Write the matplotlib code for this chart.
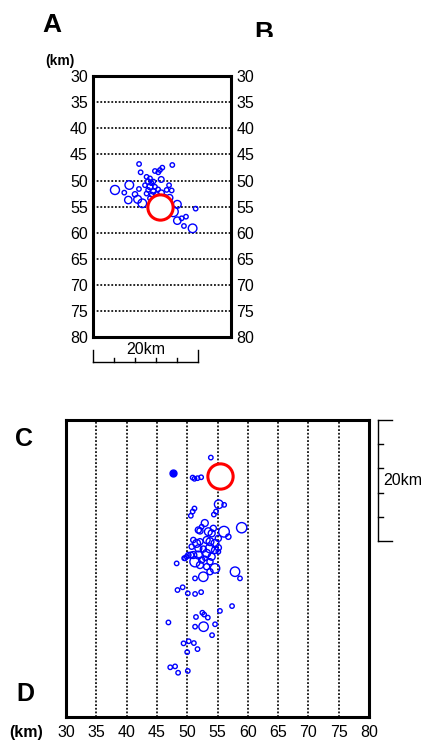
import numpy as np
import matplotlib
matplotlib.use("Agg")
import matplotlib.pyplot as plt
from matplotlib.transforms import Bbox, TransformedBbox

plt.rcParams['font.family'] = ['Liberation Sans', 'DejaVu Sans']

# ---- cross section A-B: distance along profile [km], depth [km], magnitude
secDist = [8.76, 9.06, 13.21, 12.76, 12.44, 15.12, 11.8, 6.89, 4.15, 5.93,
           7.98, 6.70, 8.49, 9.38, 8.74, 10.2, 10.85, 10.5, 11.1, 11.5,
           9.9, 10.85, 11.8, 10.5, 11.5, 12.4, 10.2, 11.2, 12.1, 13.0,
           10.85, 11.8, 12.76, 13.7, 14.04, 14.5, 15.0, 13.0, 14.6, 13.7,
           16.08, 15.31, 16.08, 16.91, 17.74, 19.01, 19.59, 17.35]
secDepth = [46.84, 48.43, 47.54, 47.99, 48.43, 47.03, 48.18, 50.86, 51.81, 52.32,
            52.64, 53.73, 53.6, 54.36, 51.62, 49.3, 49.6, 50.2, 50.5, 50.2,
            50.9, 51.2, 51.2, 51.8, 52.1, 51.7, 52.5, 52.7, 52.7, 52.4,
            53.4, 53.7, 53.4, 53.1, 51.8, 50.9, 51.9, 49.8, 53.3, 54.3,
            54.56, 55.96, 57.68, 57.23, 56.92, 59.15, 55.38, 58.7]
secMag = [1.0, 1.0, 1.0, 1.0, 1.0, 1.0, 1.0, 2.0, 2.1, 1.0,
          1.2, 1.7, 1.8, 2.0, 1.0, 1.0, 1.0, 1.2, 1.0, 1.0,
          1.0, 1.3, 1.0, 1.0, 1.2, 1.0, 1.0, 1.0, 1.3, 1.4,
          1.0, 1.2, 1.0, 1.0, 1.0, 1.0, 1.0, 1.3, 1.5, 1.4,
          1.8, 2.3, 1.7, 1.0, 1.0, 2.0, 1.0, 1.0]
mainSec = (12.76, 55.13)

# ---- map view C-D: x [km], distance from C [km], magnitude
mapX = [53.9, 50.9, 51.2, 51.7, 52.3, 55.2, 56.1, 54.75, 54.4, 51.2, 50.9, 50.6,
        51.84, 52.39, 53.49, 54.31, 54.04, 56.07, 58.99, 51.01, 51.56, 52.11,
        53.21, 53.76, 54.59, 55.14, 56.79, 50.74, 51.84, 52.66, 53.76, 54.59,
        55.14, 50.19, 51.01, 51.84, 53.21, 54.04, 55.14, 49.64, 51.29, 52.39,
        52.94, 53.76, 48.26, 52.11, 53.21, 54.59, 57.89, 52.66, 51.29, 53.76,
        58.71, 52.1, 50.6, 49.9, 49.5, 52.9,
        48.4, 49.25, 50.1, 51.3, 52.3, 57.4, 55.4, 52.5, 52.8, 53.4, 51.45,
        46.9, 52.7, 51.3, 54.6, 54.1, 50.25, 49.4, 51.1, 51.7, 50.0, 47.2,
        48.0, 48.5, 50.1]
mapY = [6.2, 9.5, 9.7, 9.6, 9.45, 13.9, 14.0, 15.1, 15.6, 14.6, 15.1, 15.8,
        18.15, 17.6, 18.43, 17.88, 18.7, 18.43, 17.77, 19.8, 20.36, 20.08,
        19.8, 20.08, 20.36, 19.53, 19.26, 20.9, 21.18, 21.29, 21.18, 21.46,
        21.07, 22.28, 22.28, 22.28, 22.0, 22.56, 21.73, 22.83, 23.38, 23.1,
        22.83, 23.38, 23.66, 23.93, 24.2, 24.48, 25.03, 25.86, 26.13, 25.03,
        26.13, 18.3, 22.3, 22.55, 22.8, 17.0,
        28.05, 27.6, 28.6, 28.7, 28.4, 30.7, 31.5, 31.8, 32.1, 32.6, 32.5,
        33.4, 34.1, 34.1, 33.7, 35.5, 36.5, 36.85, 36.8, 37.8, 38.3, 40.8,
        40.65, 41.7, 41.4]
mapMag = [1.0, 1.0, 1.0, 1.0, 1.0, 2.0, 1.0, 1.0, 1.0, 1.0, 1.0, 1.0,
          1.4, 1.0, 1.8, 1.4, 1.6, 2.5, 2.4, 1.2, 1.8, 1.4,
          1.6, 1.8, 1.8, 1.4, 1.2, 1.2, 1.6, 1.4, 2.1, 1.6,
          1.4, 1.2, 1.6, 1.8, 1.8, 1.6, 1.0, 1.0, 2.4, 1.4,
          1.0, 1.4, 1.0, 1.6, 1.4, 2.2, 2.2, 2.2, 1.0, 1.4,
          1.0, 1.4, 1.4, 1.0, 1.0, 1.6,
          1.0, 1.0, 1.0, 1.0, 1.0, 1.0, 1.0, 1.0, 1.0, 1.0, 1.0,
          1.0, 2.2, 1.0, 1.0, 1.0, 1.0, 1.0, 1.0, 1.0, 1.0, 1.0,
          1.0, 1.0, 1.0]
filledMap = (47.7, 8.8)
mainMap = (55.4, 9.2)
mainMag = 6.0

depthTicks = np.arange(30, 85, 5)
xTicks = np.arange(30, 85, 5)

dotStyle = (0, (1.1, 1.1))


def magToSize(m):
    # marker diameter in points grows with magnitude
    d = 3.2 + 3.0 * (np.asarray(m) - 1.0)
    return d ** 2


fig = plt.figure(figsize=(4.33, 7.44), dpi=100)

# ---------------- panel A-B (cross section)
ax1 = fig.add_axes([93.3/433, 1-337.3/744, 137.4/433, 261.3/744])
ax1.set_xlim(0, 26.3)
ax1.set_ylim(80, 30)
for d in depthTicks[1:-1]:
    ax1.axhline(d, color='k', linestyle=dotStyle, linewidth=1.2, zorder=1)
ax1.scatter(secDist, secDepth, s=magToSize(secMag), facecolors='none',
            edgecolors='#0000ff', linewidths=1.0, zorder=3)
ax1.scatter([mainSec[0]], [mainSec[1]], s=magToSize(mainMag), facecolors='white',
            edgecolors='#ff0000', linewidths=2.2, zorder=4)
ax1.set_yticks(depthTicks)
ax1.set_xticks([])
ax1.tick_params(axis='y', length=0, pad=4, labelsize=11.5, left=True, right=True,
                labelleft=True, labelright=True)
for sp in ax1.spines.values():
    sp.set_linewidth(2.2)

# scale bar under section
barY = 84.66
ax1.plot([0, 20], [barY, barY], color='k', linewidth=1.0, clip_on=False)
for xt in [0, 20]:
    ax1.plot([xt, xt], [barY, 82.4], color='k', linewidth=1.0, clip_on=False)
for xt in [4, 8, 12, 16]:
    ax1.plot([xt, xt], [barY, 83.9], color='k', linewidth=1.0, clip_on=False)
ax1.text(10, 82.4, '20km', ha='center', va='center', fontsize=11.5, clip_on=False)

# ---------------- panel C-D (map view)
ax2 = fig.add_axes([66/433, 1-717/744, 303/433, 297/744])
ax2.set_xlim(30, 80)
ax2.set_ylim(49, 0)
for xv in xTicks[1:-1]:
    ax2.axvline(xv, color='k', linestyle=dotStyle, linewidth=1.2, zorder=1)
ax2.scatter(mapX, mapY, s=magToSize(mapMag), facecolors='none',
            edgecolors='#0000ff', linewidths=1.0, zorder=3)
ax2.scatter([filledMap[0]], [filledMap[1]], s=magToSize(1.6), color='#0000ff', zorder=3)
ax2.scatter([mainMap[0]], [mainMap[1]], s=magToSize(mainMag), facecolors='white',
            edgecolors='#ff0000', linewidths=2.2, zorder=4)
ax2.set_xticks(xTicks)
ax2.set_yticks([])
ax2.tick_params(axis='x', length=0, pad=6, labelsize=11.5)
for sp in ax2.spines.values():
    sp.set_linewidth(2.2)

# vertical scale bar right of map
barX = 81.54
ax2.plot([barX, barX], [0, 20], color='k', linewidth=1.0, clip_on=False)
for yt in [0, 20]:
    ax2.plot([barX, 83.75], [yt, yt], color='k', linewidth=1.0, clip_on=False)
for yt in [4, 8, 12, 16]:
    ax2.plot([barX, 82.27], [yt, yt], color='k', linewidth=1.0, clip_on=False)
ax2.text(82.3, 9.9, '20km', ha='left', va='center', fontsize=11.5, clip_on=False)

# ---------------- letters and unit labels
fig.text(52/433, 1-25/744, 'A', ha='center', va='center', fontsize=19, fontweight='bold')
tB = fig.text(264/433, 1-33/744, 'B', ha='center', va='center', fontsize=19, fontweight='bold')
tB.set_clip_box(TransformedBbox(Bbox([[0, 1-37/744], [1, 1]]), fig.transFigure))
tB.set_clip_on(True)
fig.text(24/433, 1-439/744, 'C', ha='center', va='center', fontsize=18, fontweight='bold')
fig.text(25/433, 1-694/744, 'D', ha='center', va='center', fontsize=18, fontweight='bold')
fig.text(60/433, 1-61/744, '(km)', ha='center', va='center', fontsize=10, fontweight='bold')
fig.text(26/433, 1-732/744, '(km)', ha='center', va='center', fontsize=11.5, fontweight='bold')

plt.savefig('out.png', dpi=100)
